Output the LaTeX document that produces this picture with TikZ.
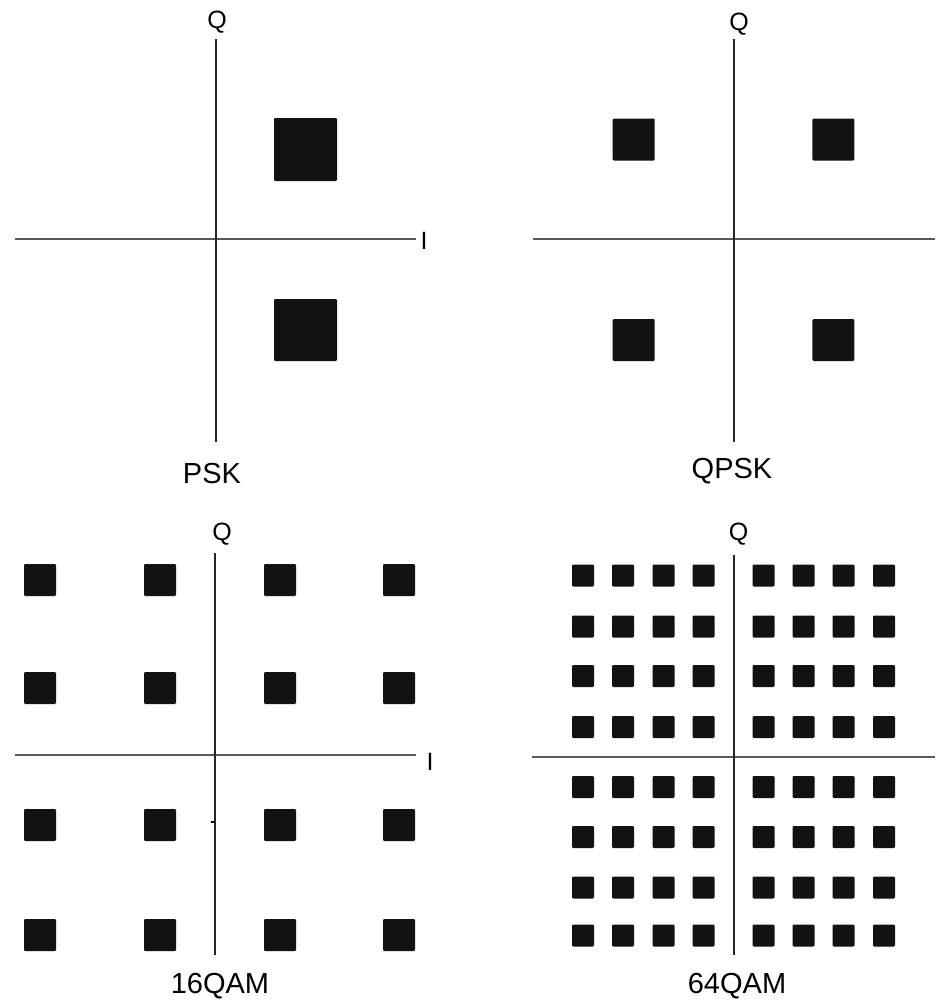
\documentclass[tikz,border=0pt]{standalone}
\usepackage{fontspec}
\setmainfont{Liberation Sans}
\begin{document}
\begin{tikzpicture}[x=0.5pt,y=-0.5pt,
  axisv/.style={draw=black!85,line width=1pt},
  axish/.style={draw=black!65,line width=1pt},
  pt/.style={fill=black!93,rounded corners=0.6pt},
  axlabel/.style={inner sep=0pt,anchor=base,font=\fontsize{12.5}{14}\selectfont},
  title/.style={inner sep=0pt,anchor=base,font=\fontsize{14.5}{17}\selectfont}]
\useasboundingbox[fill=white] (0,0) rectangle (944,1001);
% ---------- PSK ----------
\coordinate (pskT) at (215.7,39);
\coordinate (pskB) at (215.7,442);
\coordinate (pskL) at (15,239);
\coordinate (pskR) at (416,239);
\draw[axish] (pskL) -- (pskR);
\draw[axisv] (pskT) -- (pskB);
\node[axlabel] (pskQ) at (217,28) {Q};
\node[axlabel] (pskI) at (424,249) {I};
\node[title] (pskname) at (212,483) {PSK};
\fill[pt] (274,118) rectangle (337,181);
\fill[pt] (274,299) rectangle (337,361);
% ---------- QPSK ----------
\coordinate (qpskT) at (733.7,39);
\coordinate (qpskB) at (733.7,442);
\coordinate (qpskL) at (533,239);
\coordinate (qpskR) at (935,239);
\draw[axish] (qpskL) -- (qpskR);
\draw[axisv] (qpskT) -- (qpskB);
\node[axlabel] (qpskQ) at (739,31) {Q};
\node[title] (qpskname) at (732,478) {QPSK};
\foreach \cx in {633.7,833.3}
  \foreach \cy in {139.5,340}
    \fill[pt] (\cx-21,\cy-21) rectangle (\cx+21,\cy+21);
% ---------- 16QAM ----------
\coordinate (qamaT) at (215,553);
\coordinate (qamaB) at (215,955);
\coordinate (qamaL) at (15,755);
\coordinate (qamaR) at (416,755);
\draw[axish] (qamaL) -- (qamaR);
\draw[axisv] (qamaT) -- (qamaB);
\coordinate (tickA) at (210.5,822);
\coordinate (tickB) at (215,822);
\draw[black,line width=1pt] (tickA) -- (tickB);
\node[axlabel] (qamaQ) at (222,540) {Q};
\node[axlabel] (qamaI) at (430,770) {I};
\node[title] (qamaname) at (220,993) {16QAM};
\foreach \cx in {40,160,280,399}
  \foreach \cy in {580,688,825,935}
    \fill[pt] (\cx-16,\cy-16) rectangle (\cx+16,\cy+16);
% ---------- 64QAM ----------
\coordinate (qambT) at (733.7,555);
\coordinate (qambB) at (733.7,955);
\coordinate (qambL) at (532,756.7);
\coordinate (qambR) at (935,756.7);
\draw[axish] (qambL) -- (qambR);
\draw[axisv] (qambT) -- (qambB);
\node[axlabel] (qambQ) at (738.7,540) {Q};
\node[title] (qambname) at (737,993) {64QAM};
\foreach \cx in {583,623,663.5,703.5,763.5,803.5,843.5,884}
  \foreach \cy in {575.5,626.5,676,727,787,837,887.5,935.5}
    \fill[pt] (\cx-11,\cy-11) rectangle (\cx+11,\cy+11);
\end{tikzpicture}
\end{document}
